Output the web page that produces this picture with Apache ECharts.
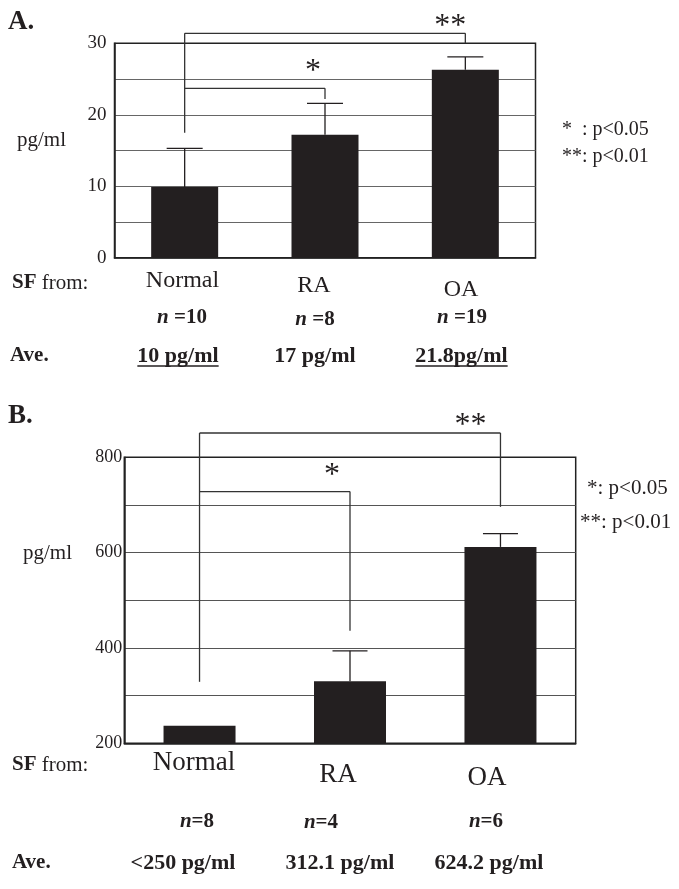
<!DOCTYPE html>
<html><head><meta charset="utf-8">
<script src="https://cdn.jsdelivr.net/npm/echarts@6/dist/echarts.min.js"></script>
<style>html,body{margin:0;padding:0;background:#fff}#c{width:679px;height:889px}</style>
</head><body><div id="c"></div>
<script>
// ---------- data ----------
const categories = ['Normal', 'RA', 'OA'];
const meanA = [9.9, 17.2, 26.3];
const upperA = [15.3, 21.6, 28.1];
const nA = ['10', '8', '19'];
const aveA = ['10 pg/ml', '17 pg/ml', '21.8pg/ml'];
const underlineA = [true, false, true];
const meanB = [237, 330, 612];
const upperB = [null, 394, 640];
const nB = ['8', '4', '6'];
const aveB = ['<250 pg/ml', '312.1 pg/ml', '624.2 pg/ml'];
const yTicksA = [0, 10, 20, 30];
const yTicksB = [200, 400, 600, 800];
// significance brackets (in data units)
const sigA = [
  {from: 0, to: 2, top: 31.4, fromEnd: 17.5, toEnd: 30, mark: '**'},
  {from: 0, to: 1, top: 23.7, fromEnd: null, toEnd: 22.2, mark: '*'}
];
const sigB = [
  {from: 0, to: 2, top: 851, fromEnd: 329, toEnd: 696, mark: '**'},
  {from: 0, to: 1, top: 728, fromEnd: null, toEnd: 436, mark: '*'}
];
const legendA = ['*  : p<0.05', '**: p<0.01'];
const legendB = ['*: p<0.05', '**: p<0.01'];

// ---------- layout / style ----------
const FF = "'Liberation Serif','Times New Roman',serif";
const INK = '#231f20';
const starOffA = [[-15, -12], [-12, -22]];
const starOffB = [[-30, -12], [-18, -21]];
const STAR_SIZE = 32;

const chart = echarts.init(document.getElementById('c'), null, {renderer: 'canvas'});

function errRender(capW) {
  return function (params, api) {
    const i = api.value(0), m = api.value(1), u = api.value(2);
    if (u == null || isNaN(u)) return null;
    const p0 = api.coord([i, m]), p1 = api.coord([i, u]);
    const st = {stroke: INK, lineWidth: 1.3};
    return {type: 'group', children: [
      {type: 'line', shape: {x1: p0[0], y1: p0[1], x2: p1[0], y2: p1[1]}, style: st},
      {type: 'line', shape: {x1: p1[0] - capW / 2, y1: p1[1], x2: p1[0] + capW / 2, y2: p1[1]}, style: st}
    ]};
  };
}
function bracketRender(sig, offs) {
  return function (params, api) {
    const s = sig[params.dataIndex];
    const pL = api.coord([s.from, s.top]);
    const pR = api.coord([s.to, s.top]);
    const st = {stroke: '#333', lineWidth: 1.3};
    const ch = [{type: 'line', shape: {x1: pL[0], y1: pL[1], x2: pR[0], y2: pR[1]}, style: st}];
    if (s.fromEnd != null) {
      const e = api.coord([s.from, s.fromEnd]);
      ch.push({type: 'line', shape: {x1: pL[0], y1: pL[1], x2: pL[0], y2: e[1]}, style: st});
    }
    const e2 = api.coord([s.to, s.toEnd]);
    ch.push({type: 'line', shape: {x1: pR[0], y1: pR[1], x2: pR[0], y2: e2[1]}, style: st});
    const o = offs[params.dataIndex];
    ch.push({type: 'text', x: pR[0] + o[0], y: pR[1] + o[1] + 0.15 * STAR_SIZE,
      style: {text: s.mark, font: STAR_SIZE + 'px ' + FF, fill: INK, align: 'center', verticalAlign: 'middle',
        textAlign: 'center', textVerticalAlign: 'middle'}});
    return {type: 'group', children: ch};
  };
}

const option = {
  animation: false,
  backgroundColor: '#fff',
  grid: [
    {left: 114.5, top: 43.3, right: 143.5, bottom: 631.3, show: true, borderColor: '#222', borderWidth: 1.5, backgroundColor: 'transparent'},
    {left: 124.3, top: 457.3, right: 103.3, bottom: 145.7, show: true, borderColor: '#222', borderWidth: 1.5, backgroundColor: 'transparent'}
  ],
  xAxis: [
    {type: 'category', gridIndex: 0, data: categories, axisLabel: {show: false}, axisTick: {show: false},
      axisLine: {lineStyle: {color: '#222', width: 1.5}}},
    {type: 'category', gridIndex: 1, data: categories, axisLabel: {show: false}, axisTick: {show: false},
      axisLine: {lineStyle: {color: '#222', width: 1.5}}}
  ],
  yAxis: [
    {type: 'value', gridIndex: 0, min: 0, max: 30, interval: 5,
      axisLine: {show: true, lineStyle: {color: '#222', width: 1.5}}, axisTick: {show: false},
      splitLine: {show: true, showMinLine: false, showMaxLine: false, lineStyle: {color: '#666', width: 1}},
      axisLabel: {margin: 8, color: INK, fontFamily: FF, fontSize: 19,
        formatter: v => yTicksA.includes(v) ? String(v) : ''}},
    {type: 'value', gridIndex: 1, min: 200, max: 800, interval: 100,
      axisLine: {show: true, lineStyle: {color: '#222', width: 1.5}}, axisTick: {show: false},
      splitLine: {show: true, showMinLine: false, showMaxLine: false, lineStyle: {color: '#555', width: 1}},
      axisLabel: {margin: 2, color: INK, fontFamily: FF, fontSize: 18, verticalAlign: 'middle', padding: [0, 0, 8, 0],
        formatter: v => yTicksB.includes(v) ? String(v) : ''}}
  ],
  series: [
    {type: 'bar', xAxisIndex: 0, yAxisIndex: 0, data: meanA, barWidth: 67, itemStyle: {color: INK}, z: 2},
    {type: 'bar', xAxisIndex: 1, yAxisIndex: 1, data: meanB, barWidth: 72, itemStyle: {color: INK}, z: 2},
    {type: 'custom', xAxisIndex: 0, yAxisIndex: 0, z: 3, clip: false,
      data: categories.map((c, i) => [i, meanA[i], upperA[i]]), renderItem: errRender(36)},
    {type: 'custom', xAxisIndex: 1, yAxisIndex: 1, z: 3, clip: false,
      data: categories.map((c, i) => [i, meanB[i], upperB[i] == null ? NaN : upperB[i]]), renderItem: errRender(35)},
    {type: 'custom', xAxisIndex: 0, yAxisIndex: 0, z: 4, clip: false,
      data: sigA.map(s => [s.from, s.top]), renderItem: bracketRender(sigA, starOffA)},
    {type: 'custom', xAxisIndex: 1, yAxisIndex: 1, z: 4, clip: false,
      data: sigB.map(s => [s.from, s.top]), renderItem: bracketRender(sigB, starOffB)}
  ]
};
chart.setOption(option);

// ---------- text annotations ----------
const ctx = document.createElement('canvas').getContext('2d');
function measure(text, font) { ctx.font = font; return ctx.measureText(text).width; }

function txt(x, y, text, size, opts) {
  opts = opts || {};
  const font = (opts.weight || 'normal') + ' ' + size + 'px ' + FF;
  const st = {text: text, font: font, fill: INK, align: opts.align || 'left', verticalAlign: 'middle',
    textAlign: opts.align || 'left', textVerticalAlign: 'middle'};
  if (opts.rich) st.rich = opts.rich;
  return {type: 'text', x: x, y: y, z: 10, style: st};
}
const g = [];
// panel labels
g.push(txt(8, 22, 'A.', 27, {weight: 'bold'}));
g.push(txt(8, 416, 'B.', 27, {weight: 'bold'}));
// y axis titles
g.push(txt(17, 140, 'pg/ml', 21));
g.push(txt(23, 553, 'pg/ml', 21));
// legends
g.push(txt(562, 130, legendA[0], 20));
g.push(txt(562, 157, legendA[1], 20));
g.push(txt(587, 488, legendB[0], 21));
g.push(txt(580, 522, legendB[1], 21));

function sfRow(x, y, size) {
  return txt(x, y, '{b|SF}{r| from:}', size, {rich: {
    b: {fontFamily: FF, fontWeight: 'bold', fontSize: size, fill: INK, color: INK},
    r: {fontFamily: FF, fontSize: size, fill: INK, color: INK}}});
}
function nLabel(x, y, n, sep, size) {
  return txt(x, y, '{i|n}{b|' + sep + n + '}', size, {align: 'center', rich: {
    i: {fontFamily: FF, fontWeight: 'bold', fontStyle: 'italic', fontSize: size, color: INK},
    b: {fontFamily: FF, fontWeight: 'bold', fontSize: size, color: INK}}});
}
// Panel A rows
const catPosA = [[182.5, 281], [314, 286], [461, 290]];
const nPosA = [[182, 318], [315, 320], [462, 318]];
const avePosA = [178, 315, 461.5];
g.push(sfRow(12, 283, 21));
categories.forEach((c, i) => g.push(txt(catPosA[i][0], catPosA[i][1], c, 24, {align: 'center'})));
nA.forEach((n, i) => g.push(nLabel(nPosA[i][0], nPosA[i][1], n, ' =', 21)));
g.push(txt(10, 356, 'Ave.', 21, {weight: 'bold'}));
aveA.forEach((a, i) => {
  g.push(txt(avePosA[i], 356, a, 22, {weight: 'bold', align: 'center'}));
  if (underlineA[i]) {
    const w = measure(a, 'bold 22px ' + FF);
    g.push({type: 'line', z: 10, shape: {x1: avePosA[i] - w / 2, y1: 366, x2: avePosA[i] + w / 2, y2: 366},
      style: {stroke: INK, lineWidth: 1.5}});
  }
});
// Panel B rows
const catPosB = [[194, 763], [338, 775], [487, 778]];
const nPosB = [[197, 822], [321, 823], [486, 822]];
const avePosB = [183, 340, 489];
g.push(sfRow(12, 765, 21));
categories.forEach((c, i) => g.push(txt(catPosB[i][0], catPosB[i][1], c, 27, {align: 'center'})));
nB.forEach((n, i) => g.push(nLabel(nPosB[i][0], nPosB[i][1], n, '=', 21)));
g.push(txt(12, 863, 'Ave.', 21, {weight: 'bold'}));
aveB.forEach((a, i) => g.push(txt(avePosB[i], 863, a, 22, {weight: 'bold', align: 'center'})));

chart.setOption({graphic: {elements: g}});
</script>
</body></html>
